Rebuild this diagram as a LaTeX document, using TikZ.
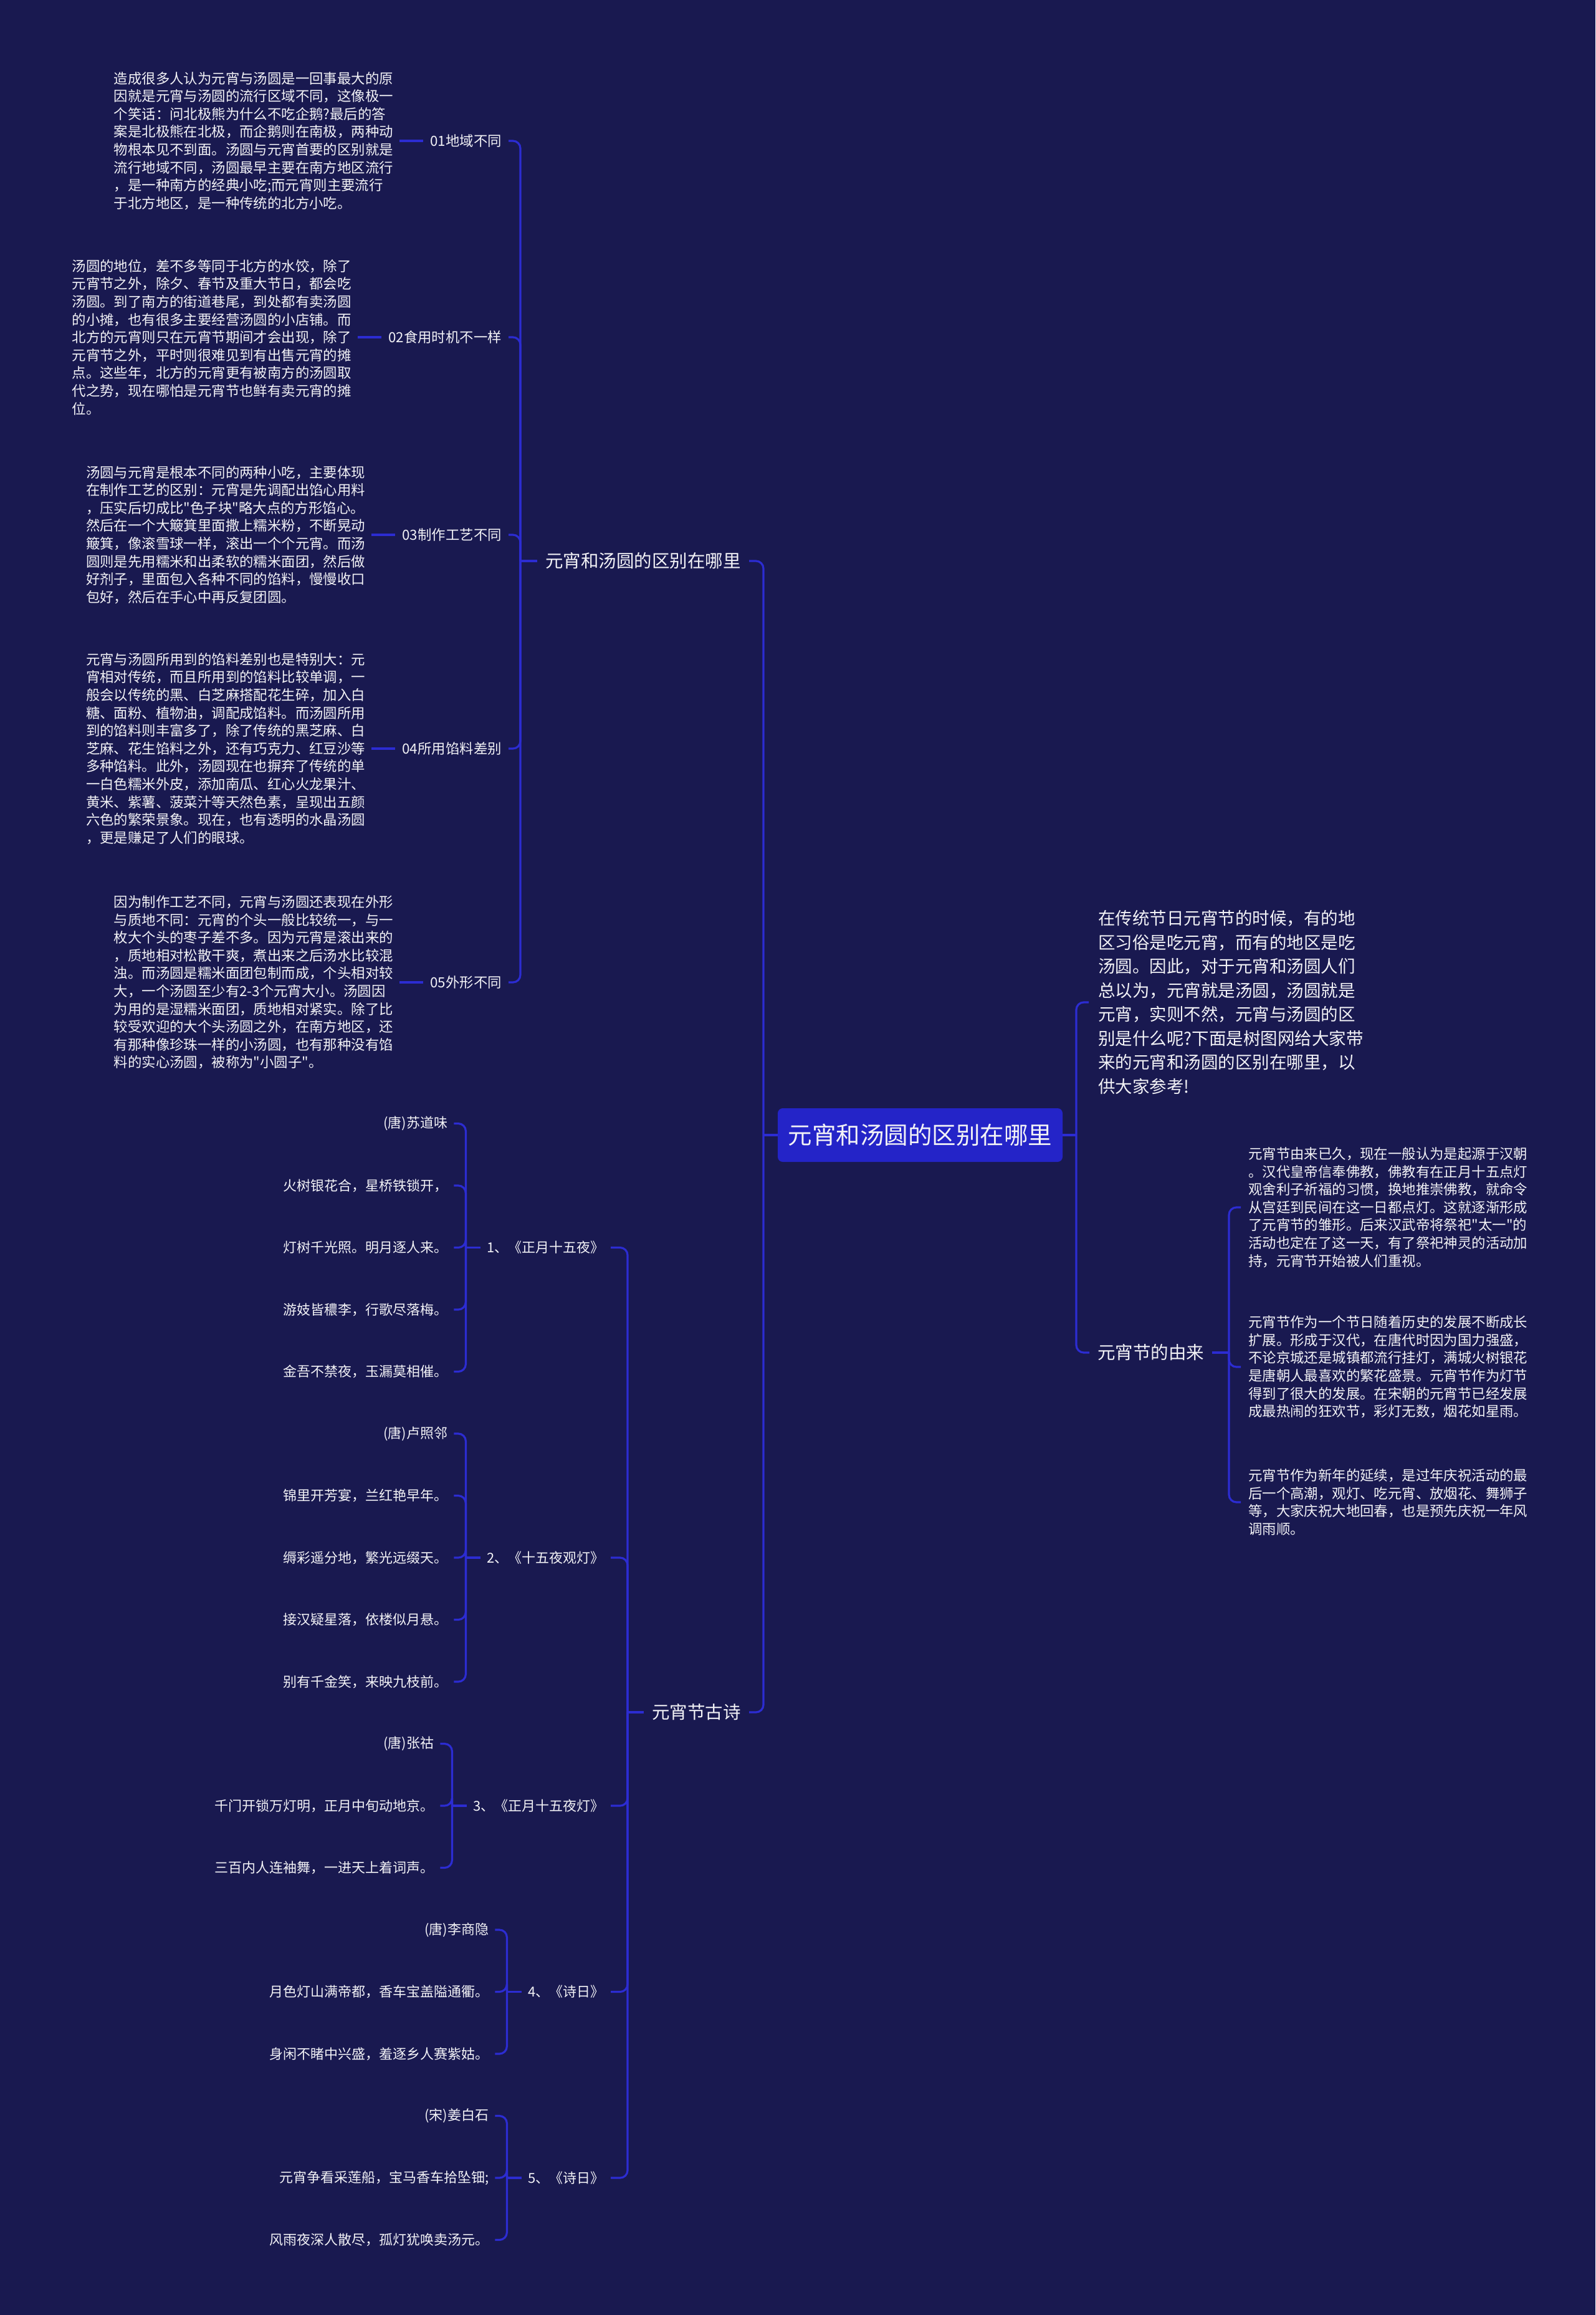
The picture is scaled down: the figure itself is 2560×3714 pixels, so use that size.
\documentclass[tikz,border=0pt]{standalone}
\usepackage{fontspec}
\setmainfont{Noto Sans CJK SC}[Ligatures=TeXOff]
\usetikzlibrary{calc}
\definecolor{bgc}{RGB}{25,25,80}
\definecolor{linec}{RGB}{44,44,210}
\definecolor{rootc}{RGB}{36,36,200}
\definecolor{txtc}{RGB}{242,242,246}
\begin{document}
\begin{tikzpicture}[x=1pt,y=-1pt,
  conn/.style={draw=linec, line width=3.2pt, rounded corners=12pt},
  rootbox/.style={fill=rootc, rounded corners=8pt, text=txtc, font=\fontsize{38.5}{46}\selectfont, minimum width=457pt, minimum height=86pt, inner sep=0pt},
  branch/.style={text=txtc, font=\fontsize{28.5}{36}\selectfont, inner xsep=13pt, inner ysep=4pt},
  intro/.style={text=txtc, font=\fontsize{27.5}{38.5}\selectfont, align=left, inner xsep=15pt, inner ysep=4pt},
  small/.style={text=txtc, font=\fontsize{22.4}{28.6}\selectfont, align=left, inner xsep=10pt, inner ysep=3pt},
  lab/.style={text=txtc, font=\fontsize{22.4}{28}\selectfont, inner xsep=11pt, inner ysep=3pt},
  poem/.style={text=txtc, font=\fontsize{22}{28}\selectfont, inner xsep=10pt, inner ysep=3pt},
]
\fill[bgc] (0,0) rectangle (2560,3714);
\useasboundingbox (0,0) rectangle (2560,3714);

% root
\node[rootbox] (root) at (1476.5,1821) {元宵和汤圆的区别在哪里};

% ---------- right side ----------
\coordinate (jR) at (1727,1821);
\node[intro, anchor=west] (intro) at (1747,1608) {在传统节日元宵节的时候，有的地\\区习俗是吃元宵，而有的地区是吃\\汤圆。因此，对于元宵和汤圆人们\\总以为，元宵就是汤圆，汤圆就是\\元宵，实则不然，元宵与汤圆的区\\别是什么呢?下面是树图网给大家带\\来的元宵和汤圆的区别在哪里，以\\供大家参考!};
\node[branch, anchor=west] (yl) at (1748,2170) {元宵节的由来};
\draw[conn] (root.east) -- (jR);
\draw[conn] (jR) |- (intro.west);
\draw[conn] (jR) |- (yl.west);

\coordinate (jY) at (1972,2170);
\node[small, anchor=west, inner xsep=12pt] (y1) at (1991,1937) {元宵节由来已久，现在一般认为是起源于汉朝\\。汉代皇帝信奉佛教，佛教有在正月十五点灯\\观舍利子祈福的习惯，换地推崇佛教，就命令\\从宫廷到民间在这一日都点灯。这就逐渐形成\\了元宵节的雏形。后来汉武帝将祭祀"太一"的\\活动也定在了这一天，有了祭祀神灵的活动加\\持，元宵节开始被人们重视。};
\node[small, anchor=west, inner xsep=12pt] (y2) at (1991,2193) {元宵节作为一个节日随着历史的发展不断成长\\扩展。形成于汉代，在唐代时因为国力强盛，\\不论京城还是城镇都流行挂灯，满城火树银花\\是唐朝人最喜欢的繁花盛景。元宵节作为灯节\\得到了很大的发展。在宋朝的元宵节已经发展\\成最热闹的狂欢节，彩灯无数，烟花如星雨。};
\node[small, anchor=west, inner xsep=12pt] (y3) at (1991,2410) {元宵节作为新年的延续，是过年庆祝活动的最\\后一个高潮，观灯、吃元宵、放烟花、舞狮子\\等，大家庆祝大地回春，也是预先庆祝一年风\\调雨顺。};
\draw[conn] (yl.east) -- (jY);
\draw[conn] (jY) |- (y1.west);
\draw[conn] (jY) |- (y2.west);
\draw[conn] (jY) |- (y3.west);

% ---------- left side ----------
\coordinate (jL) at (1225,1821);
\node[branch, anchor=east] (b1) at (1202,900) {元宵和汤圆的区别在哪里};
\node[branch, anchor=east] (b2) at (1202,2747) {元宵节古诗};
\draw[conn] (root.west) -- (jL);
\draw[conn] (jL) |- (b1.east);
\draw[conn] (jL) |- (b2.east);

% branch 1 children
\coordinate (j1) at (835,900);
\draw[conn] (b1.west) -- (j1);
\node[lab, anchor=east] (l1) at (816,226) {01地域不同};
\node[lab, anchor=east] (l2) at (816,541) {02食用时机不一样};
\node[lab, anchor=east] (l3) at (816,858) {03制作工艺不同};
\node[lab, anchor=east] (l4) at (816,1201) {04所用馅料差别};
\node[lab, anchor=east] (l5) at (816,1576) {05外形不同};
\foreach \n in {l1,l2,l3,l4,l5} {\draw[conn] (j1) |- (\n.east);}

\node[small, anchor=east, xshift=-38pt] (t1) at (l1.west) {造成很多人认为元宵与汤圆是一回事最大的原\\因就是元宵与汤圆的流行区域不同，这像极一\\个笑话：问北极熊为什么不吃企鹅?最后的答\\案是北极熊在北极，而企鹅则在南极，两种动\\物根本见不到面。汤圆与元宵首要的区别就是\\流行地域不同，汤圆最早主要在南方地区流行\\，是一种南方的经典小吃;而元宵则主要流行\\于北方地区，是一种传统的北方小吃。};
\node[small, anchor=east, xshift=-38pt] (t2) at (l2.west) {汤圆的地位，差不多等同于北方的水饺，除了\\元宵节之外，除夕、春节及重大节日，都会吃\\汤圆。到了南方的街道巷尾，到处都有卖汤圆\\的小摊，也有很多主要经营汤圆的小店铺。而\\北方的元宵则只在元宵节期间才会出现，除了\\元宵节之外，平时则很难见到有出售元宵的摊\\点。这些年，北方的元宵更有被南方的汤圆取\\代之势，现在哪怕是元宵节也鲜有卖元宵的摊\\位。};
\node[small, anchor=east, xshift=-38pt] (t3) at (l3.west) {汤圆与元宵是根本不同的两种小吃，主要体现\\在制作工艺的区别：元宵是先调配出馅心用料\\，压实后切成比"色子块"略大点的方形馅心。\\然后在一个大簸箕里面撒上糯米粉，不断晃动\\簸箕，像滚雪球一样，滚出一个个元宵。而汤\\圆则是先用糯米和出柔软的糯米面团，然后做\\好剂子，里面包入各种不同的馅料，慢慢收口\\包好，然后在手心中再反复团圆。};
\node[small, anchor=east, xshift=-38pt] (t4) at (l4.west) {元宵与汤圆所用到的馅料差别也是特别大：元\\宵相对传统，而且所用到的馅料比较单调，一\\般会以传统的黑、白芝麻搭配花生碎，加入白\\糖、面粉、植物油，调配成馅料。而汤圆所用\\到的馅料则丰富多了，除了传统的黑芝麻、白\\芝麻、花生馅料之外，还有巧克力、红豆沙等\\多种馅料。此外，汤圆现在也摒弃了传统的单\\一白色糯米外皮，添加南瓜、红心火龙果汁、\\黄米、紫薯、菠菜汁等天然色素，呈现出五颜\\六色的繁荣景象。现在，也有透明的水晶汤圆\\，更是赚足了人们的眼球。};
\node[small, anchor=east, xshift=-38pt] (t5) at (l5.west) {因为制作工艺不同，元宵与汤圆还表现在外形\\与质地不同：元宵的个头一般比较统一，与一\\枚大个头的枣子差不多。因为元宵是滚出来的\\，质地相对松散干爽，煮出来之后汤水比较混\\浊。而汤圆是糯米面团包制而成，个头相对较\\大，一个汤圆至少有2-3个元宵大小。汤圆因\\为用的是湿糯米面团，质地相对紧实。除了比\\较受欢迎的大个头汤圆之外，在南方地区，还\\有那种像珍珠一样的小汤圆，也有那种没有馅\\料的实心汤圆，被称为"小圆子"。};
\draw[conn] (t1.east) -- (l1.west);
\draw[conn] (t2.east) -- (l2.west);
\draw[conn] (t3.east) -- (l3.west);
\draw[conn] (t4.east) -- (l4.west);
\draw[conn] (t5.east) -- (l5.west);

% branch 2: poems
\coordinate (j2) at (1007,2747);
\draw[conn] (b2.west) -- (j2);
\node[poem, anchor=east] (p1) at (980,2001.5) {1、《正月十五夜》};
\node[poem, anchor=east] (p2) at (980,2499) {2、《十五夜观灯》};
\node[poem, anchor=east] (p3) at (980,2897) {3、《正月十五夜灯》};
\node[poem, anchor=east] (p4) at (980,3195.5) {4、《诗日》};
\node[poem, anchor=east] (p5) at (980,3494) {5、《诗日》};
\foreach \n in {p1,p2,p3,p4,p5} {\draw[conn] (j2) |- (\n.east);}

\foreach \n in {p1,p2,p3,p4,p5} {\coordinate (\n b) at ([xshift=-24pt]\n.west); \draw[conn] (\n.west) -- (\n b);}

% poem 1
\node[poem, anchor=east, xshift=-19pt] (p1a) at (p1b |- 0,1802.5) {(唐)苏道味};
\node[poem, anchor=east, xshift=-19pt] (p1c) at (p1b |- 0,1902) {火树银花合，星桥铁锁开，};
\node[poem, anchor=east, xshift=-19pt] (p1d) at (p1b |- 0,2001.5) {灯树千光照。明月逐人来。};
\node[poem, anchor=east, xshift=-19pt] (p1e) at (p1b |- 0,2101) {游妓皆穠李，行歌尽落梅。};
\node[poem, anchor=east, xshift=-19pt] (p1f) at (p1b |- 0,2200.5) {金吾不禁夜，玉漏莫相催。};
\foreach \n in {p1a,p1c,p1d,p1e,p1f} {\draw[conn] (p1b) |- (\n.east);}

% poem 2
\node[poem, anchor=east, xshift=-19pt] (p2a) at (p2b |- 0,2300) {(唐)卢照邻};
\node[poem, anchor=east, xshift=-19pt] (p2c) at (p2b |- 0,2399.5) {锦里开芳宴，兰红艳早年。};
\node[poem, anchor=east, xshift=-19pt] (p2d) at (p2b |- 0,2499) {缛彩遥分地，繁光远缀天。};
\node[poem, anchor=east, xshift=-19pt] (p2e) at (p2b |- 0,2598.5) {接汉疑星落，依楼似月悬。};
\node[poem, anchor=east, xshift=-19pt] (p2f) at (p2b |- 0,2698) {别有千金笑，来映九枝前。};
\foreach \n in {p2a,p2c,p2d,p2e,p2f} {\draw[conn] (p2b) |- (\n.east);}

% poem 3
\node[poem, anchor=east, xshift=-19pt] (p3a) at (p3b |- 0,2797.5) {(唐)张祜};
\node[poem, anchor=east, xshift=-19pt] (p3c) at (p3b |- 0,2897) {千门开锁万灯明，正月中旬动地京。};
\node[poem, anchor=east, xshift=-19pt] (p3d) at (p3b |- 0,2996.5) {三百内人连袖舞，一进天上着词声。};
\foreach \n in {p3a,p3c,p3d} {\draw[conn] (p3b) |- (\n.east);}

% poem 4
\node[poem, anchor=east, xshift=-19pt] (p4a) at (p4b |- 0,3096) {(唐)李商隐};
\node[poem, anchor=east, xshift=-19pt] (p4c) at (p4b |- 0,3195.5) {月色灯山满帝都，香车宝盖隘通衢。};
\node[poem, anchor=east, xshift=-19pt] (p4d) at (p4b |- 0,3295) {身闲不睹中兴盛，羞逐乡人赛紫姑。};
\foreach \n in {p4a,p4c,p4d} {\draw[conn] (p4b) |- (\n.east);}

% poem 5
\node[poem, anchor=east, xshift=-19pt] (p5a) at (p5b |- 0,3394.5) {(宋)姜白石};
\node[poem, anchor=east, xshift=-19pt] (p5c) at (p5b |- 0,3494) {元宵争看采莲船，宝马香车拾坠钿;};
\node[poem, anchor=east, xshift=-19pt] (p5d) at (p5b |- 0,3593.5) {风雨夜深人散尽，孤灯犹唤卖汤元。};
\foreach \n in {p5a,p5c,p5d} {\draw[conn] (p5b) |- (\n.east);}
\end{tikzpicture}
\end{document}
